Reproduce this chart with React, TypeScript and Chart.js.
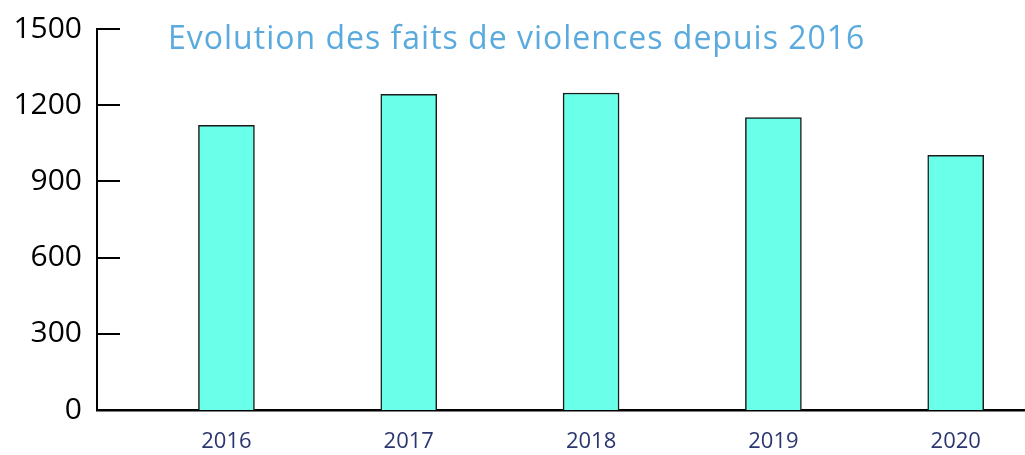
import React, { useEffect, useRef } from "react";
import { Chart, registerables } from "chart.js";

Chart.register(...registerables);

const years = [2016, 2017, 2018, 2019, 2020];
const values = [1121, 1243, 1248, 1151, 1003];
const yTicks = [0, 300, 600, 900, 1200, 1500];
const titleText = "Evolution des faits de violences depuis 2016";

const inwardTicks = {
  id: "inwardTicks",
  afterDatasetsDraw(chart: any) {
    const { ctx, chartArea, scales } = chart;
    const y = scales.y;
    ctx.save();
    ctx.strokeStyle = "#000";
    ctx.lineWidth = 2;
    yTicks.forEach((v) => {
      const py = Math.round(y.getPixelForValue(v));
      ctx.beginPath();
      ctx.moveTo(chartArea.left, py);
      ctx.lineTo(chartArea.left + 23, py);
      ctx.stroke();
    });
    ctx.restore();
  },
};

export default function App() {
  const ref = useRef<HTMLCanvasElement>(null);
  useEffect(() => {
    document.body.style.margin = "0";
    const chart = new Chart(ref.current!, {
      type: "bar",
      data: {
        datasets: [
          {
            data: years.map((yr, i) => ({ x: yr, y: values[i] })),
            backgroundColor: "#6affe8",
            borderColor: "#1a1a1a",
            borderWidth: 1.5,
            barThickness: 56,
          },
        ],
      },
      options: {
        animation: false,
        responsive: false,
        layout: { padding: { top: 29, right: 0, left: 0, bottom: 0 } },
        plugins: { legend: { display: false }, tooltip: { enabled: false } },
        scales: {
          x: {
            type: "linear",
            offset: false,
            min: 2015.29,
            max: 2020.38,
            afterBuildTicks: (scale: any) => {
              scale.ticks = years.map((v) => ({ value: v }));
            },
            afterFit: (scale: any) => {
              scale.height = 45;
            },
            grid: { display: false, drawTicks: false, offset: false },
            border: { display: true, color: "#000", width: 2.5 },
            ticks: {
              color: "#2b3670",
              font: { family: "Open Sans", size: 22 },
              padding: 19,
              callback: (v: any) => String(v),
            },
          },
          y: {
            min: 0,
            max: 1500,
            afterBuildTicks: (scale: any) => {
              scale.ticks = yTicks.map((v) => ({ value: v }));
            },
            afterFit: (scale: any) => {
              scale.width = 97;
              scale.paddingTop = 0;
            },
            grid: { display: false, drawTicks: false },
            border: { display: true, color: "#000", width: 2 },
            ticks: {
              color: "#000",
              font: { family: "Open Sans", size: 30 },
              padding: 15,
              callback: (v: any) => String(v),
            },
          },
        },
      },
      plugins: [inwardTicks],
    });
    return () => chart.destroy();
  }, []);
  return (
    <div style={{ position: "fixed", left: 0, top: 0, width: 1025, height: 455, background: "#fff" }}>
      <canvas ref={ref} width={1025} height={455} style={{ display: "block" }} />
      <div
        style={{
          position: "absolute",
          left: 168,
          top: 13,
          fontFamily: "Open Sans",
          fontSize: 32,
          letterSpacing: "1px",
          color: "#5aaade",
          whiteSpace: "nowrap",
          lineHeight: "48px",
        }}
      >
        {titleText}
      </div>
    </div>
  );
}
